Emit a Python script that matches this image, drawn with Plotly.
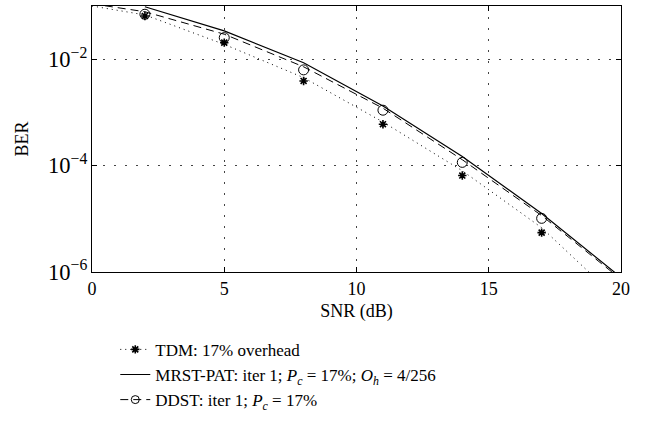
import plotly.graph_objects as go

# ---- data ----
snr_line = [0, 2, 5, 8, 11, 14, 17, 20]
snr_mrst = [2, 5, 8, 11, 14, 17, 20]
snr_mark = [2, 5, 8, 11, 14, 17]

tdm_line = [0.10, 0.068, 0.019, 0.0045, 6.6e-4, 8.0e-5, 6.8e-6, 2.7e-7]
tdm_mark = [0.065, 0.0205, 0.0039, 6.0e-4, 6.5e-5, 5.5e-6]

mrst_line = [0.097, 0.034, 0.0086, 1.32e-3, 1.48e-4, 1.26e-5, 7.9e-7]

ddst_line = [0.11, 0.078, 0.0295, 0.0072, 1.2e-3, 1.29e-4, 1.15e-5, 7.3e-7]
ddst_mark = [0.070, 0.0254, 0.0063, 1.10e-3, 1.15e-4, 1.02e-5]

names = [
    "TDM: 17% overhead",
    "MRST-PAT: iter 1; <i>P<sub>c</sub></i> = 17%; <i>O<sub>h</sub></i> = 4/256",
    "DDST: iter 1; <i>P<sub>c</sub></i> = 17%",
]

FONT = "Liberation Serif, Times New Roman, serif"
DOT = "1px,4px"
DASH = "8px,5px"

fig = go.Figure()

# curves (no legend)
fig.add_trace(go.Scatter(x=snr_line, y=tdm_line, mode="lines",
                         line=dict(color="black", width=1, dash=DOT),
                         showlegend=False, hoverinfo="skip"))
fig.add_trace(go.Scatter(x=snr_mark, y=tdm_mark, mode="markers",
                         marker=dict(symbol="asterisk-open", size=7, color="black",
                                     line=dict(color="black", width=1.6)),
                         showlegend=False))
fig.add_trace(go.Scatter(x=snr_mrst, y=mrst_line, mode="lines",
                         line=dict(color="black", width=1.2),
                         showlegend=False))
fig.add_trace(go.Scatter(x=snr_line, y=ddst_line, mode="lines",
                         line=dict(color="black", width=1, dash=DASH),
                         showlegend=False))
fig.add_trace(go.Scatter(x=snr_mark, y=ddst_mark, mode="markers",
                         marker=dict(symbol="circle-open", size=10, color="black",
                                     line=dict(color="black", width=1)),
                         showlegend=False))

# legend entries
fig.add_trace(go.Scatter(x=[None], y=[None], mode="lines+markers", name=names[0],
                         line=dict(color="black", width=1, dash=DOT),
                         marker=dict(symbol="asterisk-open", size=7, color="black",
                                     line=dict(color="black", width=1.6))))
fig.add_trace(go.Scatter(x=[None], y=[None], mode="lines", name=names[1],
                         line=dict(color="black", width=1.2)))
fig.add_trace(go.Scatter(x=[None], y=[None], mode="lines+markers", name=names[2],
                         line=dict(color="black", width=1, dash=DASH),
                         marker=dict(symbol="circle-open", size=8, color="black",
                                     line=dict(color="black", width=1))))

axis_common = dict(
    showline=True, linecolor="black", linewidth=1.2, mirror="ticks",
    ticks="inside", ticklen=5, tickcolor="black", tickwidth=1,
    showgrid=True, gridcolor="#444", gridwidth=1, griddash="2px,9px",
    zeroline=False, tickfont=dict(family=FONT, size=18, color="black"),
)

fig.update_xaxes(range=[0, 20], tickvals=[0, 5, 10, 15, 20],
                 title=dict(text="SNR (dB)", font=dict(family=FONT, size=18, color="black"),
                            standoff=6),
                 **axis_common)
fig.update_yaxes(type="log", range=[-6, -1], dtick=2, tick0=0,
                 exponentformat="power", showexponent="all",
                 title=dict(text="BER", font=dict(family=FONT, size=18, color="black"),
                            standoff=14),
                 **axis_common)

fig.update_layout(
    width=645, height=438,
    margin=dict(l=92, r=24, t=6, b=166),
    paper_bgcolor="white", plot_bgcolor="white",
    font=dict(family=FONT, size=17, color="black"),
    legend=dict(x=0.044, y=-0.225, xanchor="left", yanchor="top",
                font=dict(family=FONT, size=17, color="black"),
                itemwidth=30, tracegroupgap=0, bgcolor="rgba(0,0,0,0)"),
    showlegend=True,
)

fig.write_html("out.html",
               config={"displayModeBar": False},
               post_script="document.body.style.margin='0';document.body.style.padding='0';")
